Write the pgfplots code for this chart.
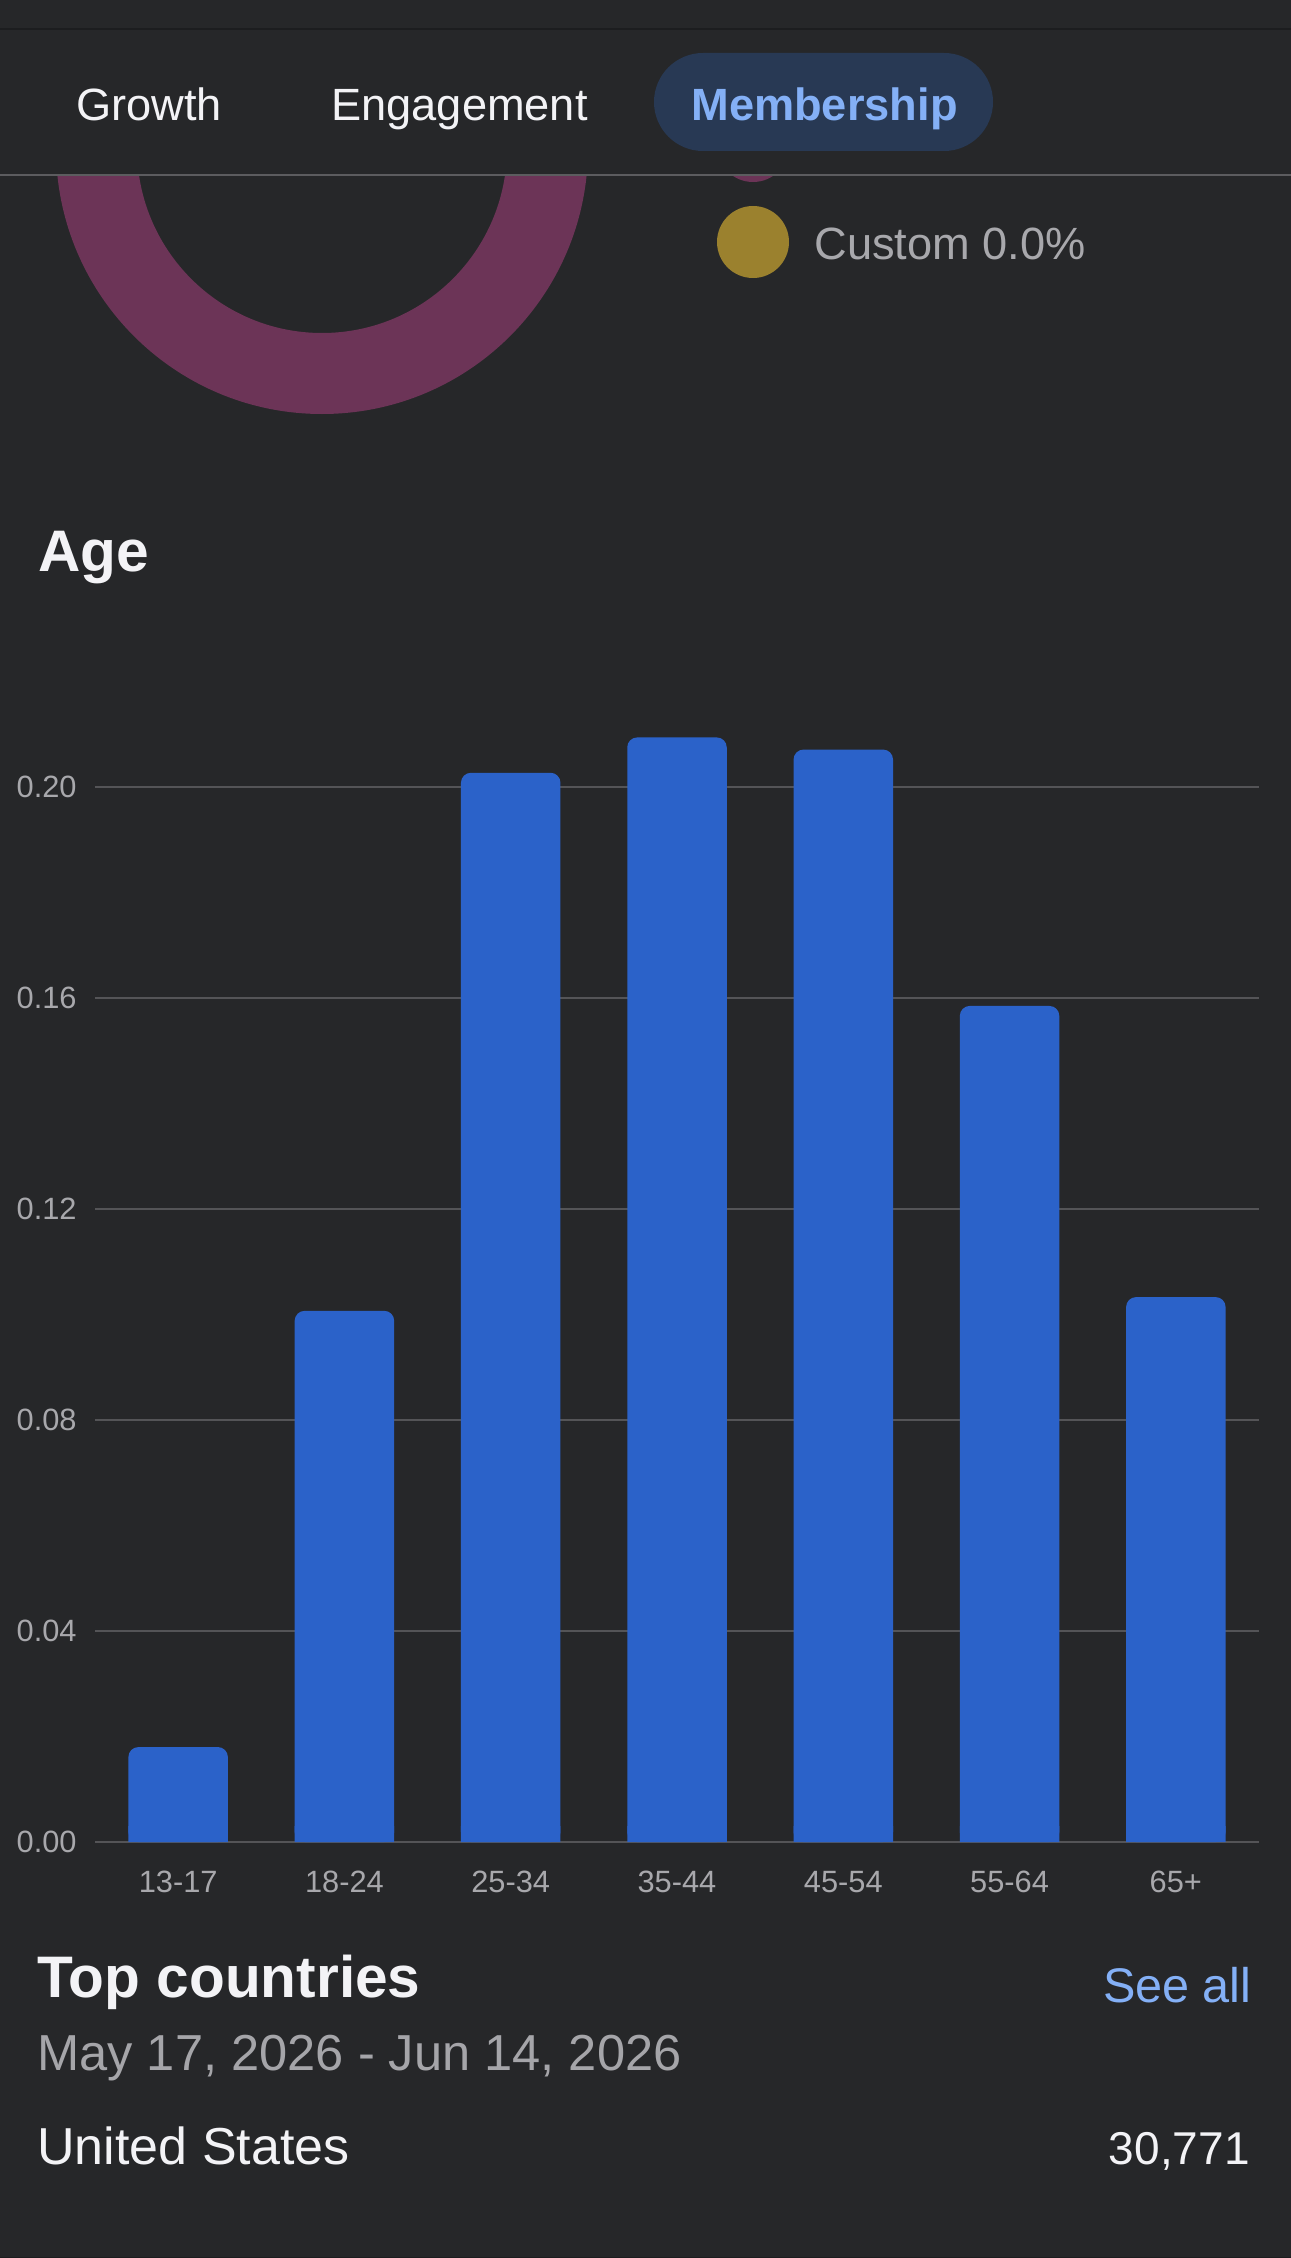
\documentclass[border=0pt]{standalone}
\usepackage{pgfplots}
\pgfplotsset{compat=1.18}
\usepackage{fontspec}
\setmainfont{Liberation Sans}
\definecolor{bg}{RGB}{38,39,41}
\definecolor{darkline}{RGB}{28,29,31}
\definecolor{sepline}{RGB}{92,92,95}
\definecolor{gridc}{RGB}{84,84,87}
\definecolor{barblue}{RGB}{43,98,201}
\definecolor{donut}{RGB}{108,52,87}
\definecolor{gold}{RGB}{155,129,46}
\definecolor{pill}{RGB}{40,57,84}
\definecolor{linkblue}{RGB}{132,176,246}
\definecolor{offwhite}{RGB}{243,243,246}
\definecolor{labgray}{RGB}{168,168,172}
\definecolor{dategray}{RGB}{165,165,169}
\pgfplotstableread{
x v
0 0.018
1 0.1007
2 0.2027
3 0.2094
4 0.2071
5 0.1585
6 0.1033
}\agedata
\begin{document}
\begin{tikzpicture}
\begin{scope}[x=0.5pt,y=-0.5pt]
\useasboundingbox (0,0) rectangle (1290,2258);
\fill[bg] (-10,-10) rectangle (1300,2268);
\draw[darkline, line width=1pt] (-10,29.5) -- (1300,29.5);
\draw[darkline, line width=1pt] (-10,2257.5) -- (1300,2257.5);
% donut and legend (clipped under header)
\begin{scope}
\clip (0,175) rectangle (1290,700);
\fill[donut, even odd rule] (322,148) circle[radius=266] (322,148) circle[radius=185];
\fill[donut] (753,146) circle[radius=36];
\end{scope}
\fill[gold] (753,242) circle[radius=36];
\node[anchor=base west, inner sep=0pt, text=labgray, font=\fontsize{22.6}{26}\selectfont] at (814,259) {Custom 0.0\%};
% header
\draw[sepline, line width=0.75pt] (-10,175) -- (1300,175);
\fill[pill, rounded corners=24.5pt] (654,53) rectangle (993,151);
\node[anchor=base west, inner sep=0pt, text=offwhite, font=\fontsize{22.6}{26}\selectfont] at (76,121) {Growth};
\node[anchor=base west, inner sep=0pt, text=offwhite, font=\fontsize{22.6}{26}\selectfont] at (331,121) {Engagement};
\node[anchor=base west, inner sep=0pt, text=linkblue, font=\bfseries\fontsize{22.6}{26}\selectfont] at (691,121) {Membership};
% titles
\node[anchor=base west, inner sep=0pt, text=offwhite, font=\bfseries\fontsize{29.3}{34}\selectfont] at (38,571) {Age};
\node[anchor=base west, inner sep=0pt, text=offwhite, font=\bfseries\fontsize{29.3}{36}\selectfont] at (37,1997) {Top countries};
\node[anchor=base east, inner sep=0pt, text=linkblue, font=\fontsize{24.3}{30}\selectfont] at (1252,2002) {See all};
\node[anchor=base west, inner sep=0pt, text=dategray, font=\fontsize{25.3}{30}\selectfont] at (37,2070) {May 17, 2026 - Jun 14, 2026};
\node[anchor=base west, inner sep=0pt, text=offwhite, font=\fontsize{26}{30}\selectfont] at (37,2164) {United States};
\node[anchor=base east, inner sep=0pt, text=offwhite, font=\fontsize{23}{30}\selectfont] at (1250,2164) {30,771};
\end{scope}
\begin{axis}[
  at={(47.5pt,-921pt)}, anchor=south west,
  scale only axis, width=582pt, height=580.25pt,
  xmin=-0.5, xmax=6.5, ymin=0, ymax=0.22,
  clip=false,
  axis line style={draw=none},
  tick style={draw=none},
  ymajorgrids, grid style={color=gridc, line width=0.75pt},
  ytick={0,0.04,0.08,0.12,0.16,0.20},
  yticklabel style={/pgf/number format/fixed, /pgf/number format/fixed zerofill, /pgf/number format/precision=2, /pgf/number format/assume math mode=true},
  every y tick label/.append style={anchor=east, inner sep=0pt, xshift=-9pt, text=labgray, font=\fontsize{15.4}{18}\selectfont},
  xtick={0,1,2,3,4,5,6},
  xticklabels={13-17,18-24,25-34,35-44,45-54,55-64,65+},
  every x tick label/.append style={anchor=north, inner sep=0pt, yshift=-10pt, text=labgray, font=\fontsize{15.4}{18}\selectfont},
  ybar, bar width=49.75pt,
]
\addplot[fill=barblue, draw=none, rounded corners=5pt, bar shift=0pt] table[x=x, y=v] {\agedata};
\addplot[fill=barblue, draw=none, bar shift=0pt, y filter/.expression={min(y,0.003)}] table[x=x, y=v] {\agedata};
\end{axis}
\end{tikzpicture}
\end{document}
